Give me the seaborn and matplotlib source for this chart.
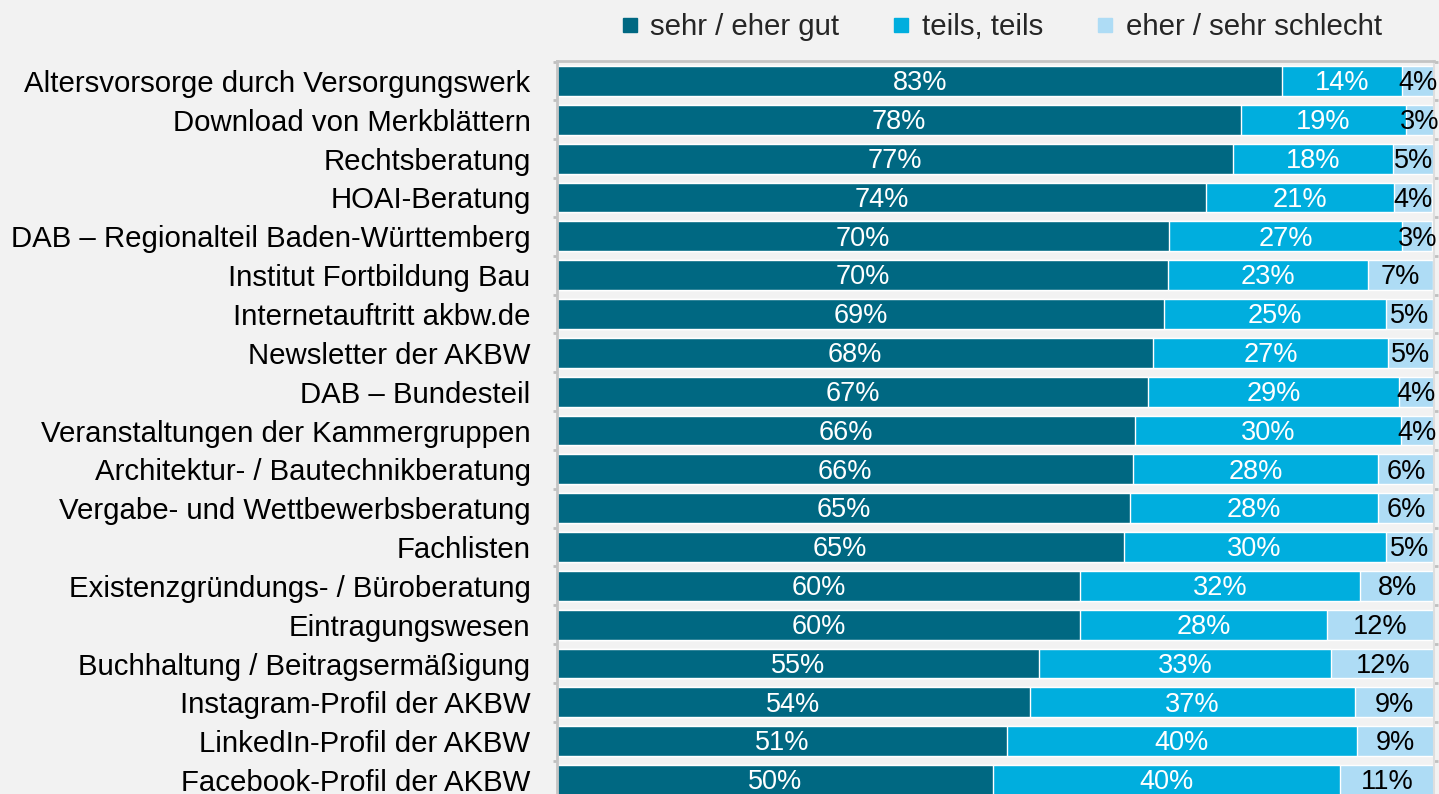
import pandas as pd
import seaborn as sns
import matplotlib.pyplot as plt
from matplotlib.lines import Line2D

items = [
    'Altersvorsorge durch Versorgungswerk',
    'Download von Merkblättern',
    'Rechtsberatung',
    'HOAI-Beratung',
    'DAB – Regionalteil Baden-Württemberg',
    'Institut Fortbildung Bau',
    'Internetauftritt akbw.de',
    'Newsletter der AKBW',
    'DAB – Bundesteil',
    'Veranstaltungen der Kammergruppen',
    'Architektur- / Bautechnikberatung',
    'Vergabe- und Wettbewerbsberatung',
    'Fachlisten',
    'Existenzgründungs- / Büroberatung',
    'Eintragungswesen',
    'Buchhaltung / Beitragsermäßigung',
    'Instagram-Profil der AKBW',
    'LinkedIn-Profil der AKBW',
    'Facebook-Profil der AKBW',
]
gut = [82.7, 78.0, 77.1, 74.0, 69.8, 69.7, 69.2, 68.0, 67.4, 65.9,
       65.7, 65.3, 64.6, 59.6, 59.6, 55.0, 53.9, 51.3, 49.7]
teils = [13.6, 18.8, 18.2, 21.4, 26.6, 22.8, 25.3, 26.7, 28.6, 30.3,
         27.9, 28.3, 29.9, 32.0, 28.2, 33.3, 37.1, 39.9, 39.6]
schlecht = [3.7, 3.2, 4.7, 4.4, 3.4, 7.4, 5.4, 5.3, 4.0, 3.8,
            6.4, 6.4, 5.4, 8.4, 12.2, 11.7, 9.0, 8.8, 10.7]

series_names = ['sehr / eher gut', 'teils, teils', 'eher / sehr schlecht']
colors = ['#006882', '#00AEDE', '#AEDCF5']
bg = '#f2f2f2'

df = pd.DataFrame({'item': items, 'gut': gut, 'teils': teils, 'schlecht': schlecht})
df['c1'] = df['gut']
df['c2'] = df['gut'] + df['teils']
df['c3'] = df['c2'] + df['schlecht']

sns.set_style('white')
plt.rcParams['font.family'] = ['Liberation Sans', 'DejaVu Sans']

fig = plt.figure(figsize=(14.39, 7.94), dpi=100, facecolor=bg)
ax = fig.add_axes([557 / 1439, -6 / 794, 877 / 1439, 739 / 794])
ax.set_facecolor(bg)

# stacked bars: draw cumulative totals back to front
for col, color in zip(['c3', 'c2', 'c1'], colors[::-1]):
    sns.barplot(data=df, x=col, y='item', orient='h', color=color, saturation=1,
                width=0.77, errorbar=None, edgecolor='white', linewidth=1, ax=ax)

lab_kw = dict(ha='center', va='center', fontsize=19.5)
for i, row in df.iterrows():
    y = i + 0.06
    ax.text(row.gut / 2, y, f'{row.gut:.0f}%', color='white', **lab_kw)
    ax.text(row.gut + row.teils / 2, y, f'{row.teils:.0f}%', color='white', **lab_kw)
    ax.text(row.c2 + row.schlecht / 2, y, f'{row.schlecht:.0f}%', color='black', **lab_kw)

ax.set_xlim(0, 100)
ax.set_ylim(18.515, -0.515)
ax.set_xlabel('')
ax.set_ylabel('')
ax.set_xticks([])
ax.tick_params(axis='y', which='major', length=0, pad=19, labelsize=21.2, labelcolor='black')
ax.set_yticks([i + 0.5 for i in range(-1, len(items))], minor=True)
ax.tick_params(axis='y', which='minor', length=3, width=2, color='#bfbfbf',
               left=True, right=True, direction='out')

for side in ['top', 'left']:
    ax.spines[side].set_color('#c4c4c4')
    ax.spines[side].set_linewidth(2)
ax.spines['right'].set_color('#dedede')
ax.spines['right'].set_linewidth(1.5)
ax.spines['bottom'].set_visible(False)

handles = [Line2D([], [], marker='s', linestyle='none', markersize=10, color=c) for c in colors]
fig.legend(handles, series_names, loc='center', bbox_to_anchor=(1000 / 1439, 1 - 27 / 794),
           ncol=3, frameon=False, fontsize=21.2, handletextpad=0.3, columnspacing=1.7,
           handlelength=0.8)

fig.savefig('out.png', dpi=100, facecolor=bg)
